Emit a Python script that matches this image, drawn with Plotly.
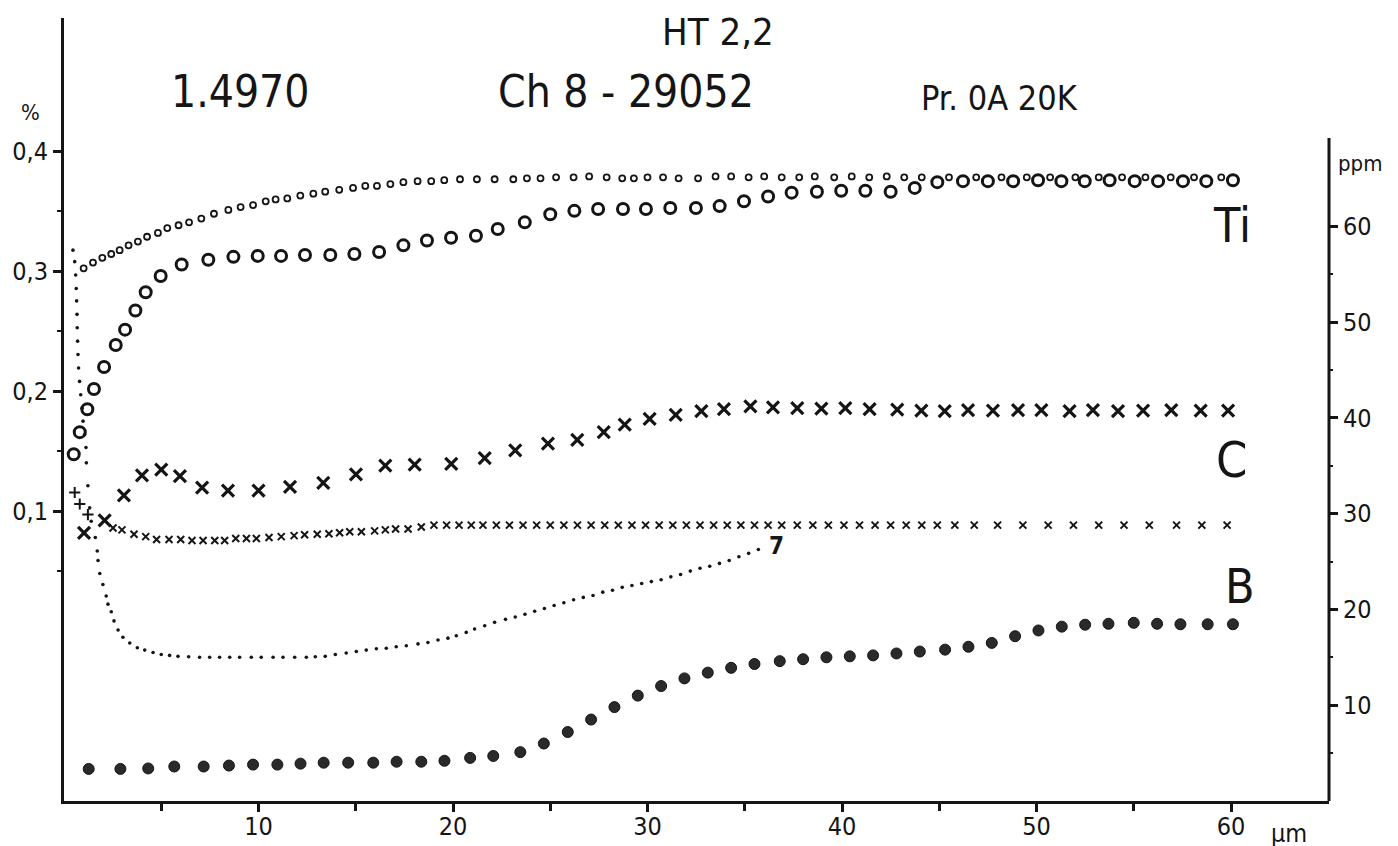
import plotly.graph_objects as go

# ---------------- data (x in µm, values in ppm of right axis scale) ----------------
ti_small_x = [1.01,1.49,1.97,2.43,2.86,3.32,3.80,4.27,4.83,5.31,5.89,6.43,7.06,7.71,8.45,9.08,9.72,10.37,10.88,11.48,
              12.15,12.82,13.43,14.15,14.86,15.49,16.09,16.78,17.45,18.18,18.88,19.55,20.36,21.23,22.14,
              23.1,23.8,24.5,25.3,26.2,27.0,27.9,28.7,29.3,30.0,30.8,31.6,32.6,33.5,34.3,35.2,36.0,36.9,37.8,38.6,
              39.6,40.5,41.4,42.3,43.2,44.1,45.5,46.9,48.2,49.5,50.7,52.0,53.2,54.4,55.6,56.9,58.1,59.5]
ti_small_y = [55.6,56.2,56.7,57.1,57.5,58.0,58.4,58.9,59.3,59.8,60.1,60.4,60.8,61.3,61.7,62.0,62.2,62.6,62.8,62.9,
              63.2,63.4,63.6,63.8,64.0,64.2,64.2,64.4,64.6,64.7,64.7,64.8,64.9,64.9,64.9,
              64.9,65.0,65.0,65.1,65.1,65.2,65.1,65.0,65.0,65.1,65.1,65.0,65.0,65.2,65.2,65.1,65.2,65.1,65.1,65.2,
              65.1,65.2,65.1,65.2,65.1,65.1,65.1,65.1,65.1,65.1,65.1,65.1,65.1,65.1,65.1,65.1,65.1,65.1]

ti_big_x = [0.50,0.81,1.20,1.54,2.06,2.66,3.14,3.67,4.20,4.97,6.05,7.42,8.71,9.96,11.16,12.39,13.69,14.93,16.20,17.45,
            18.66,19.90,21.18,22.3,23.69,25.0,26.24,27.46,28.74,29.92,31.17,32.49,33.71,34.96,36.2,37.41,38.71,39.96,
            41.2,42.5,43.74,44.9,46.22,47.5,48.8,50.08,51.28,52.48,53.76,55.05,56.25,57.53,58.73,60.1]
ti_big_y = [36.2,38.5,40.9,43.0,45.3,47.6,49.2,51.2,53.1,54.8,56.0,56.5,56.8,56.9,56.9,57.0,57.0,57.1,57.3,58.0,
            58.5,58.8,59.0,59.7,60.4,61.25,61.6,61.8,61.8,61.8,61.9,61.9,62.1,62.6,63.1,63.5,63.6,63.7,
            63.7,63.6,64.0,64.6,64.7,64.7,64.7,64.8,64.7,64.7,64.8,64.7,64.7,64.7,64.7,64.8]

c_big_x = [1.03,2.09,3.08,4.01,5.0,5.96,7.1,8.43,10.0,11.62,13.33,15.01,16.52,18.03,19.91,21.63,23.2,24.88,26.39,
           27.75,28.83,30.11,31.45,32.77,33.93,35.29,36.45,37.7,38.94,40.17,41.42,42.84,44.08,45.28,46.48,47.76,
           49.05,50.25,51.7,52.9,54.19,55.48,56.93,58.44,59.85]
c_big_y = [28.0,29.3,31.9,34.0,34.6,33.9,32.7,32.4,32.4,32.8,33.2,34.1,35.0,35.1,35.2,35.8,36.6,37.3,37.7,
           38.5,39.3,39.9,40.3,40.7,40.9,41.2,41.1,41.0,40.95,41.0,40.9,40.85,40.75,40.7,40.8,40.75,
           40.8,40.8,40.7,40.8,40.7,40.75,40.8,40.75,40.75]

c_plus_x = [0.55,0.81,1.23]
c_plus_y = [32.2,31.0,29.9]

c_small_x = [2.52,2.98,3.6,4.2,4.76,5.4,6.0,6.58,7.15,7.75,8.26,8.83,9.38,9.89,10.54,11.17,11.83,12.37,13.02,13.62,
             14.17,14.69,15.29,15.97,16.52,17.05,17.69,18.37,19.02,19.67,20.31,20.94,21.54,22.23,
             22.9,23.6,24.3,25.0,25.7,26.4,27.1,27.8,28.5,29.2,29.9,30.6,31.3,32.0,32.7,33.4,34.1,34.8,35.5,36.2,
             36.9,37.7,38.5,39.3,40.1,40.9,41.7,42.5,43.3,44.1,44.9,45.8,46.8,48.0,49.3,50.6,51.9,53.2,54.5,55.8,
             57.2,58.5,59.8]
c_small_y = [28.5,28.3,27.85,27.6,27.3,27.3,27.3,27.2,27.2,27.2,27.2,27.4,27.4,27.4,27.5,27.6,27.7,27.8,27.85,27.9,
             28.0,28.1,28.1,28.2,28.3,28.4,28.4,28.6,28.8,28.8,28.8,28.8,28.8,28.8,
             28.8,28.8,28.8,28.8,28.8,28.8,28.8,28.8,28.8,28.8,28.8,28.8,28.8,28.8,28.8,28.8,28.8,28.8,28.8,28.8,
             28.8,28.8,28.8,28.8,28.8,28.8,28.8,28.8,28.8,28.8,28.8,28.8,28.8,28.8,28.8,28.8,28.8,28.8,28.8,28.8,
             28.8,28.8,28.8]

b_small_x = [0.46,0.55,0.60,0.63,0.65,0.67,0.68,0.70,0.72,0.75,0.80,0.86,0.93,0.98,1.06,1.13,1.15,1.23,1.32,1.40,
             1.61,1.71,1.75,1.84,2.0,2.17,2.26,2.43,2.57,2.78,3.03,3.38,3.77,4.15,4.58,5.0,5.43,5.86,6.41,6.97,
             7.49,8.0,8.52,9.03,9.63,10.14,10.75,11.26,11.86,12.46,12.92,13.43,13.95,14.51,15.03,15.54,16.06,
             16.57,17.08,17.6,18.2,18.71,19.23,19.74,20.17,20.68,21.11,21.63,22.14,
             22.7,23.2,23.7,24.2,24.7,25.2,25.7,26.2,26.7,27.2,27.7,28.2,28.7,29.2,29.7,30.2,30.7,31.2,31.7,32.2,
             32.7,33.2,33.7,34.2,34.7,35.2,35.7]
b_small_y = [57.5,56.3,54.9,53.5,52.2,50.8,49.4,48.0,46.6,45.2,43.8,42.4,41.0,39.65,38.25,36.9,35.3,32.9,30.6,29.2,
             27.5,26.1,25.1,23.75,22.6,21.4,20.55,19.75,18.8,17.85,17.1,16.5,16.0,15.75,15.5,15.3,15.2,15.1,15.05,15.0,
             15.0,15.0,15.0,15.0,15.0,15.0,15.0,15.0,15.0,15.0,15.05,15.1,15.3,15.45,15.6,15.75,15.9,
             15.95,16.1,16.2,16.4,16.55,16.8,17.0,17.25,17.6,17.95,18.3,18.65,
             18.96,19.2,19.5,19.8,20.1,20.4,20.7,21.0,21.25,21.45,21.8,22.0,22.3,22.5,22.7,22.9,23.1,23.4,23.65,24.0,
             24.3,24.5,24.8,25.1,25.5,25.85,26.25]

b_big_x = [1.27,2.9,4.33,5.67,7.18,8.48,9.72,10.97,12.16,13.35,14.61,15.9,17.1,18.37,19.56,20.88,22.07,23.46,24.67,
           25.9,27.1,28.3,29.5,30.7,31.9,33.1,34.3,35.5,36.8,38.0,39.2,40.4,41.6,42.8,44.0,45.3,46.5,47.7,48.9,
           50.1,51.3,52.5,53.7,55.0,56.2,57.4,58.8,60.1]
b_big_y = [3.35,3.35,3.4,3.6,3.6,3.7,3.8,3.8,3.9,4.0,4.0,4.0,4.1,4.1,4.2,4.5,4.7,5.1,6.0,
           7.2,8.5,9.8,11.0,12.0,12.8,13.4,13.9,14.3,14.6,14.8,15.0,15.1,15.2,15.4,15.6,15.8,16.1,16.5,17.2,
           17.8,18.2,18.4,18.5,18.6,18.5,18.45,18.45,18.45]

x_ticks = [10, 20, 30, 40, 50, 60]
x_minor = [5, 15, 25, 35, 45, 55]
pct_ticks = [0.1, 0.2, 0.3, 0.4]
pct_text = ["0,1", "0,2", "0,3", "0,4"]
pct_minor = [0.05, 0.15, 0.25, 0.35]
ppm_ticks = [10, 20, 30, 40, 50, 60]
ppm_minor = [5, 15, 25, 35, 45, 55]

# ---------------- layout geometry ----------------
W, H = 1398, 846
L, R, T, B = 56, 77, 10, 53
PW, PH = W - L - R, H - T - B
PX_PER_UM = 19.45
PX_PER_PPM = 9.58
X_MAX = PW / PX_PER_UM
PPM_MAX = PH / PX_PER_PPM
PCT_ZERO_PX = 623        # page y of 0 %
PX_PER_PCT = 1200.0
pct_lo = -(H - B - PCT_ZERO_PX) / PX_PER_PCT
pct_hi = (PCT_ZERO_PX - T) / PX_PER_PCT


def px(xp, yp):
    return (xp - L) / PW, (H - B - yp) / PH


INK = "#151515"
FONT = "DejaVu Sans Condensed, DejaVu Sans, sans-serif"

fig = go.Figure()

fig.add_trace(go.Scatter(x=b_small_x, y=b_small_y, mode="markers",
                         marker=dict(symbol="circle", size=3.6, color=INK), hoverinfo="skip"))
fig.add_trace(go.Scatter(x=ti_small_x, y=ti_small_y, mode="markers",
                         marker=dict(symbol="circle-open", size=6, color=INK, line=dict(width=1.8, color=INK)),
                         hoverinfo="skip"))
fig.add_trace(go.Scatter(x=ti_big_x, y=ti_big_y, mode="markers",
                         marker=dict(symbol="circle-open", size=11, color=INK, line=dict(width=3, color=INK)),
                         hoverinfo="skip"))
fig.add_trace(go.Scatter(x=c_small_x, y=c_small_y, mode="markers",
                         marker=dict(symbol="x-thin-open", size=7, color=INK, line=dict(width=2, color=INK)),
                         hoverinfo="skip"))
fig.add_trace(go.Scatter(x=c_plus_x, y=c_plus_y, mode="markers",
                         marker=dict(symbol="cross-thin-open", size=8, color=INK, line=dict(width=2, color=INK)),
                         hoverinfo="skip"))
fig.add_trace(go.Scatter(x=c_big_x, y=c_big_y, mode="markers",
                         marker=dict(symbol="x-thin-open", size=12, color=INK, line=dict(width=3.2, color=INK)),
                         hoverinfo="skip"))
fig.add_trace(go.Scatter(x=b_big_x, y=b_big_y, mode="markers",
                         marker=dict(symbol="circle", size=11, color="#2a2a2a", line=dict(width=1, color=INK)),
                         hoverinfo="skip"))
# empty trace bound to the left (%) axis so it is drawn
fig.add_trace(go.Scatter(x=[None], y=[None], yaxis="y2", mode="markers", hoverinfo="skip"))

fig.update_layout(
    width=W, height=H, showlegend=False,
    paper_bgcolor="white", plot_bgcolor="white",
    margin=dict(l=L, r=R, t=T, b=B, autoexpand=False),
    font=dict(family=FONT, color=INK, size=24),
    xaxis=dict(range=[0, X_MAX], showgrid=False, zeroline=False, showline=True, linewidth=2.5, linecolor=INK,
               tickmode="array", tickvals=x_ticks, ticktext=[str(v) for v in x_ticks],
               ticks="outside", ticklen=8, tickwidth=2.5, tickcolor=INK, ticklabelstandoff=-7,
               tickfont=dict(size=25, family=FONT, color=INK),
               minor=dict(tickmode="array", tickvals=x_minor, ticks="outside", ticklen=7, tickwidth=2.5,
                          tickcolor=INK)),
    yaxis=dict(range=[0, PPM_MAX], side="right", showgrid=False, zeroline=False, showline=False,
               tickmode="array", tickvals=ppm_ticks, ticktext=[str(v) for v in ppm_ticks],
               ticks="outside", ticklen=8, tickwidth=2.5, tickcolor=INK,
               tickfont=dict(size=25, family=FONT, color=INK),
               minor=dict(tickmode="array", tickvals=ppm_minor, ticks="outside", ticklen=3, tickwidth=1.5,
                          tickcolor=INK)),
    yaxis2=dict(range=[pct_lo, pct_hi], overlaying="y", side="left", showgrid=False, zeroline=False,
                showline=True, linewidth=3, linecolor=INK,
                tickmode="array", tickvals=pct_ticks, ticktext=pct_text,
                ticks="outside", ticklen=8, tickwidth=2.5, tickcolor=INK,
                tickfont=dict(size=25, family=FONT, color=INK),
                minor=dict(tickmode="array", tickvals=pct_minor, ticks="outside", ticklen=4, tickwidth=2,
                           tickcolor=INK)),
)

# right axis line only up to its own top
fig.add_shape(type="line", xref="paper", yref="y", x0=1, x1=1, y0=0, y1=69.2,
              line=dict(color=INK, width=3))


def label(text, xp, yp, size, xanchor="center"):
    ax, ay = px(xp, yp)
    fig.add_annotation(text=text, xref="paper", yref="paper", x=ax, y=ay, showarrow=False,
                       xanchor=xanchor, yanchor="middle", font=dict(size=size, family=FONT, color=INK))


label("HT 2,2", 710, 24, 38)
label("1.4970", 232, 84, 44)
label("Ch 8 - 29052", 618, 84, 44)
label("Pr. 0A 20K", 992, 90, 34)
label("%", 22, 104, 22)
label("ppm", 1352, 155, 22)
label("µm", 1281, 826, 25)
label("Ti", 1224, 217, 48)
label("C", 1223, 452, 50)
label("B", 1232, 578, 48)
label("<b>7</b>", 768, 538, 24)

fig.write_html("out.html")
